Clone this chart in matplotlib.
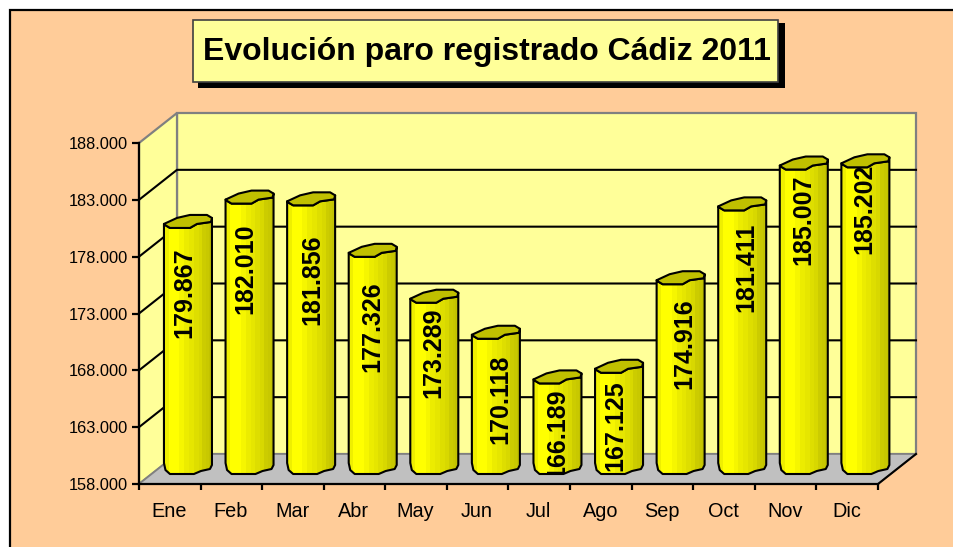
import matplotlib
matplotlib.use("Agg")
import matplotlib.pyplot as plt
from matplotlib.patches import Polygon, Rectangle
from matplotlib.transforms import Bbox
import numpy as np

months = ["Ene","Feb","Mar","Abr","May","Jun","Jul","Ago","Sep","Oct","Nov","Dic"]
values = [179867,182010,181856,177326,173289,170118,166189,167125,174916,181411,185007,185202]
labels = ["179.867","182.010","181.856","177.326","173.289","170.118","166.189","167.125","174.916","181.411","185.007","185.202"]
y_ticks = [158000,163000,168000,173000,178000,183000,188000]
y_tick_labels = ["158.000","163.000","168.000","173.000","178.000","183.000","188.000"]
title = "Evolución paro registrado Cádiz 2011"

# placement of the hand-positioned value labels, in pixels relative to each column's top centre
label_dx = [-4,-4.5,1,0,-0.5,4,-0.5,-4,3.3,4,0,-1]
label_dy = [26,26,36,31,11,22,12,14,21,19,11,3]

plt.rcParams['font.family'] = ['Liberation Sans','DejaVu Sans']
W,H = 954,547
fig = plt.figure(figsize=(W/100,H/100),dpi=100,facecolor='white')

bgax = fig.add_axes([0,0,1,1],zorder=0)
bgax.set_xlim(0,W); bgax.set_ylim(H,0); bgax.axis('off')
bgax.add_patch(Rectangle((10,10),W,H,fc='#FFCC99',ec='black',lw=1.6))

L,R,T,B = 139,878,143,484
ax = fig.add_axes([L/W,1-B/H,(R-L)/W,(B-T)/H],zorder=1)
ax.set_xlim(0,12); ax.set_ylim(158000,188000)
ax.patch.set_alpha(0)
px = 12/(R-L); py = 30000/(B-T)
DX,DY = 38*px,30*py

ymin,ymax = 158000,188000
ax.add_patch(Polygon([(DX,ymin+DY),(12+DX,ymin+DY),(12+DX,ymax+DY),(DX,ymax+DY)],fc='#FFFF99',ec='#808080',lw=1.6,zorder=1,clip_on=False))
ax.add_patch(Polygon([(0,ymin),(DX,ymin+DY),(DX,ymax+DY),(0,ymax)],fc='#FFFF99',ec='#808080',lw=1.6,zorder=1,clip_on=False))
ax.add_patch(Polygon([(0,ymin),(12,ymin),(12+DX,ymin+DY),(DX,ymin+DY)],fc='#C0C0C0',ec='#808080',lw=1.2,zorder=1,clip_on=False))
for v in y_ticks[1:-1]:
    ax.plot([0,DX,12+DX],[v,v+DY,v+DY],color='black',lw=1.5,zorder=2,clip_on=False,solid_joinstyle='miter')
ax.plot([12,12+DX],[ymin,ymin+DY],color='black',lw=1.5,zorder=2,clip_on=False)

bar_w = 0.78
cen = 0.795
depth = 14
cap = np.array([(-24,2.5),(-11,-3.5),(2,-6.5),(19,-6.5),(24,-3.5),(23,.5),(9,2.5),(2,6.5),(-18,6.5),(-23,3.5)])
front = np.array([(24,-3.5),(23,.5),(9,2.5),(2,6.5),(-18,6.5),(-23,3.5),(-24,2.5)])
foot = np.array([(-24,-7),(-22.5,0),(-18,4),(6,4),(13,1),(22,-1),(24,-5)])
stops = [0,.1,.22,.32,.42,.52,.62,.72,.8,.88,.94,1.0]
cols = ['#EFEF00','#FFFF00','#FFFF00','#F6F600','#ECEC00','#E6E600','#DEDE00','#D8D800','#CCCC00','#C8C800','#C2C200']
label_clip = Bbox.from_extents(0,H-473,W,H)
for i,v in enumerate(values):
    xc = i+cen
    yc = v+depth*py
    base = ymin+depth*py
    pc = lambda a,y0: [(xc+p[0]*px, y0-p[1]*py) for p in a]
    body = Polygon(pc(front,yc)+pc(foot,base),closed=True,fc='none',ec='black',lw=1.5,zorder=4+i*.01,clip_on=False,joinstyle='round')
    ax.add_patch(body)
    for k in range(len(cols)):
        x0 = xc-bar_w/2+stops[k]*bar_w
        x1 = xc-bar_w/2+stops[k+1]*bar_w
        r = ax.bar(x0,yc+20*py-ymin,width=x1-x0,bottom=ymin-10*py,align='edge',color=cols[k],lw=0,zorder=3+i*.01)[0]
        r.set_clip_path(body)
        r.set_clip_box(None)
    ax.add_patch(Polygon(pc(cap,yc),closed=True,fc='#C0C000',ec='black',lw=1.5,zorder=5+i*.01,clip_on=False,joinstyle='round'))
    t = ax.text(xc+label_dx[i]*px,yc-label_dy[i]*py,labels[i],rotation=90,ha='center',va='top',
                fontsize=18,fontweight='bold',color='black',zorder=6,clip_on=True)
    t.set_clip_box(label_clip)

for s in ('top','right'): ax.spines[s].set_visible(False)
for s in ('left','bottom'):
    ax.spines[s].set_linewidth(1.6); ax.spines[s].set_zorder(7)
ax.set_yticks(y_ticks); ax.set_yticklabels(y_tick_labels,fontsize=11.8)
ax.set_xticks(range(13)); ax.set_xticklabels([""]*13)
ax.set_xticks(np.arange(12)+0.49,minor=True); ax.set_xticklabels(months,minor=True,fontsize=14.3)
ax.tick_params(axis='x',which='minor',length=0,pad=13)
ax.tick_params(axis='x',which='major',length=4.5,width=1.6,direction='out')
ax.tick_params(axis='y',length=5,width=1.6,direction='out',pad=3)

ax2 = fig.add_axes([0,0,1,1],zorder=2); ax2.set_xlim(0,W); ax2.set_ylim(H,0); ax2.axis('off')
ax2.add_patch(Rectangle((198,23),587,65,fc='black',ec='none'))
ax2.add_patch(Rectangle((193.5,19.5),585,62,fc='#FFFF99',ec='#404040',lw=1.2))
ax2.text(486.5,52,title,ha='center',va='center',fontsize=23,fontweight='bold',color='black')

fig.savefig('out.png',dpi=100)
